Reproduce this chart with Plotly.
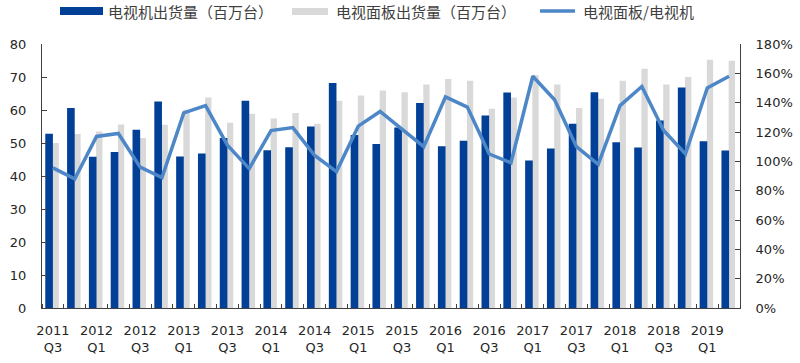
import plotly.graph_objects as go

quarters = ["2011Q3", "2011Q4", "2012Q1", "2012Q2", "2012Q3", "2012Q4",
            "2013Q1", "2013Q2", "2013Q3", "2013Q4", "2014Q1", "2014Q2",
            "2014Q3", "2014Q4", "2015Q1", "2015Q2", "2015Q3", "2015Q4",
            "2016Q1", "2016Q2", "2016Q3", "2016Q4", "2017Q1", "2017Q2",
            "2017Q3", "2017Q4", "2018Q1", "2018Q2", "2018Q3", "2018Q4",
            "2019Q1", "2019Q2"]

tv_shipments = [52.8, 60.6, 45.8, 47.3, 54.0, 62.6, 45.9, 46.8, 51.5, 62.8,
                47.8, 48.7, 55.0, 68.2, 52.4, 49.7, 54.7, 62.1, 49.0, 50.7,
                58.3, 65.3, 44.7, 48.3, 55.8, 65.4, 50.2, 48.6, 56.8, 66.8,
                50.5, 47.7]

panel_shipments = [50.0, 52.7, 53.5, 55.6, 51.5, 55.5, 60.1, 63.8, 56.1, 58.9,
                   57.4, 59.1, 55.8, 62.8, 64.4, 65.9, 65.4, 67.7, 69.4, 68.9,
                   60.4, 63.8, 70.6, 67.7, 60.6, 63.4, 68.9, 72.5, 67.7, 70.0,
                   75.2, 74.9]

ratio = [0.955, 0.88, 1.17, 1.19, 0.96, 0.89, 1.33, 1.38, 1.11, 0.95,
         1.21, 1.23, 1.04, 0.93, 1.24, 1.34, 1.22, 1.10, 1.44, 1.37,
         1.05, 0.99, 1.58, 1.42, 1.10, 0.98, 1.38, 1.51, 1.21, 1.05,
         1.50, 1.58]

tick_idx = list(range(0, len(quarters), 2))
tick_text = [quarters[i][:4] + "<br>" + quarters[i][4:] for i in tick_idx]

x = list(range(len(quarters)))

BLUE = "#023F96"
GRAY = "#D9D9D9"
LINE = "#4D87C7"

fig = go.Figure()
fig.add_trace(go.Bar(x=x, y=panel_shipments, name="电视面板出货量（百万台）",
                     marker=dict(color=GRAY, line=dict(width=0)),
                     offset=-0.02, width=0.29))
fig.add_trace(go.Bar(x=x, y=tv_shipments, name="电视机出货量（百万台）",
                     marker=dict(color=BLUE, line=dict(width=0)),
                     offset=-0.35, width=0.35))
fig.add_trace(go.Scatter(x=x, y=ratio, name="电视面板/电视机", mode="lines",
                         line=dict(color=LINE, width=3.5), yaxis="y2"))

tick_font = dict(family="DejaVu Sans", size=13, color="#262626")

fig.update_layout(
    width=800, height=363,
    margin=dict(l=42, r=60, t=44, b=55),
    paper_bgcolor="white", plot_bgcolor="white",
    showlegend=False,
    barmode="overlay",
    xaxis=dict(range=[-0.5, len(quarters) - 0.5], tickvals=tick_idx, ticktext=tick_text,
               ticks="", showline=True, linecolor="#404040", linewidth=1,
               showgrid=False, zeroline=False, tickfont=tick_font,
               ticklabelstandoff=10, automargin=False,
               minor=dict(tick0=-0.5, dtick=1, ticks="inside", ticklen=4,
                          tickcolor="#404040", showgrid=False)),
    yaxis=dict(range=[0, 80], dtick=10, ticks="inside", ticklen=5,
               tickcolor="#404040", showline=True, linecolor="#404040",
               linewidth=1, showgrid=False, zeroline=False, tickfont=tick_font,
               ticklabelstandoff=12, automargin=False),
    yaxis2=dict(range=[0, 1.8], dtick=0.2, tickformat=".0%", overlaying="y",
                side="right", ticks="inside", ticklen=5, tickcolor="#404040",
                showline=True, linecolor="#404040", linewidth=1,
                showgrid=False, zeroline=False, tickfont=tick_font,
                ticklabelstandoff=12, automargin=False),
)

# legend drawn manually to mimic the reference style
W, H = 698.0, 264.0
def px(xp):
    return (xp - 42) / W
def py(yp):
    return (308 - yp) / H

leg_font = dict(family="Noto Sans CJK SC", size=15, color="#404040")
fig.add_shape(type="rect", xref="paper", yref="paper", x0=px(60), x1=px(103),
              y0=py(15), y1=py(7), fillcolor=BLUE, line=dict(width=0))
fig.add_shape(type="rect", xref="paper", yref="paper", x0=px(292), x1=px(328),
              y0=py(15), y1=py(8), fillcolor=GRAY, line=dict(width=0))
fig.add_shape(type="line", xref="paper", yref="paper", x0=px(540), x1=px(575),
              y0=py(11), y1=py(11), line=dict(color=LINE, width=3.5))
for xp, txt in [(106, "电视机出货量（百万台）"), (334, "电视面板出货量（百万台）"),
                (581, "电视面板/电视机")]:
    fig.add_annotation(xref="paper", yref="paper", x=px(xp), y=py(11), text=txt,
                       showarrow=False, xanchor="left", yanchor="middle",
                       font=leg_font)

fig.write_html("out.html")
